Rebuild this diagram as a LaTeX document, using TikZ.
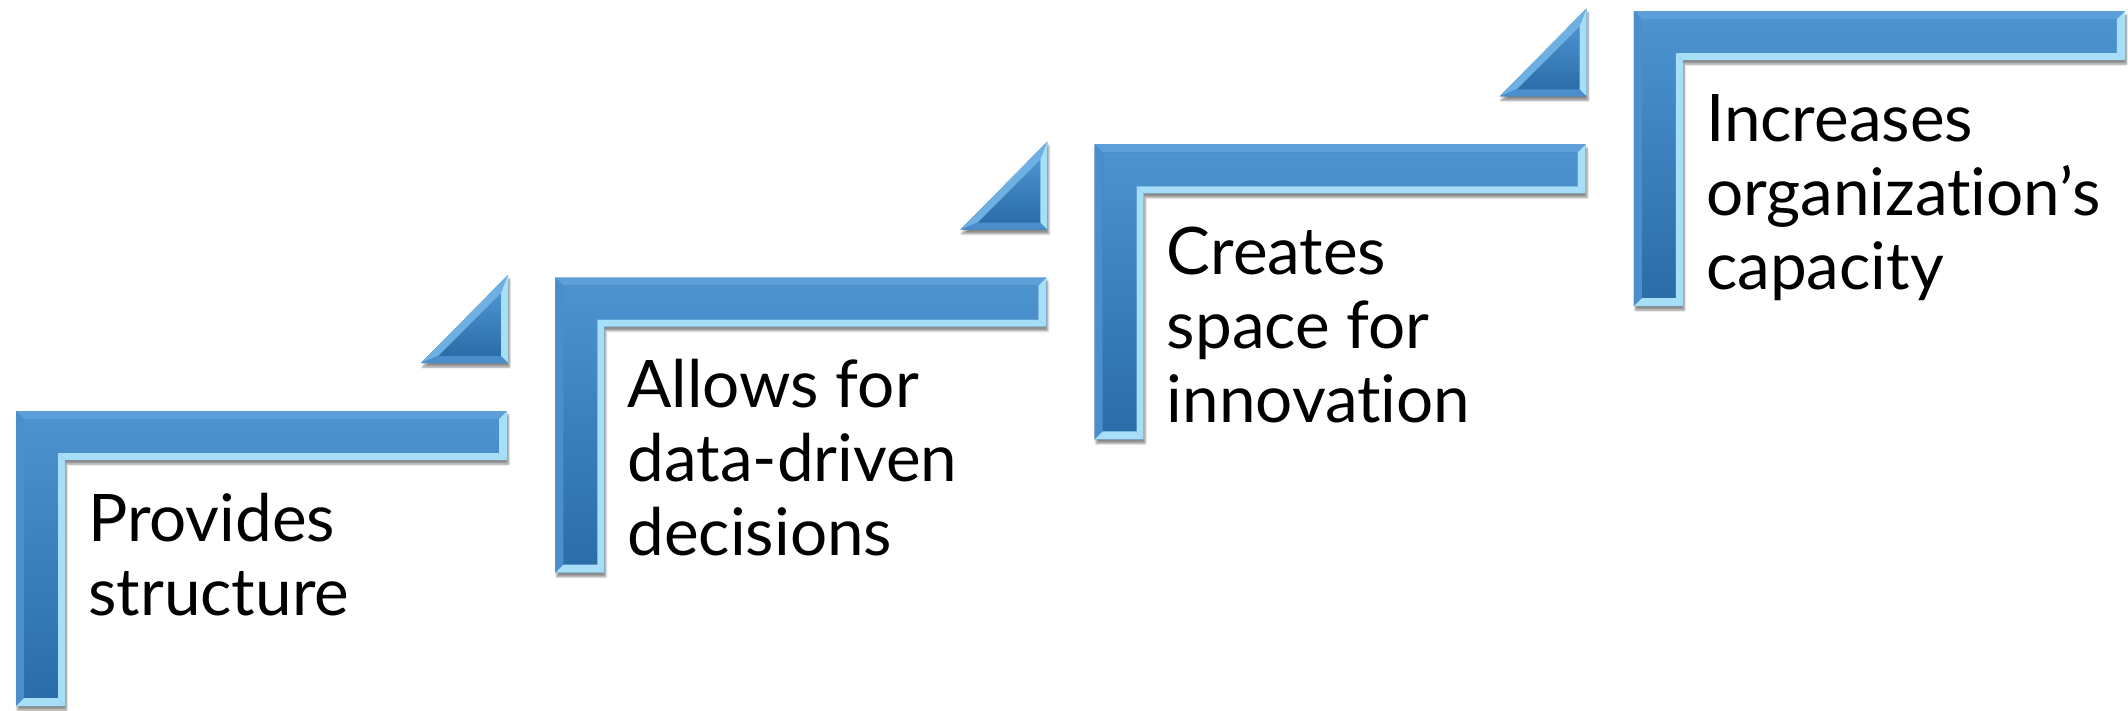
\documentclass[tikz,border=0pt]{standalone}
\usepackage{fontspec}
\setmainfont[Ligatures={NoCommon,NoContextual}]{Lato}
\usetikzlibrary{shadows.blur}
\definecolor{bluetop}{HTML}{4C93D0}
\definecolor{bluebot}{HTML}{2A6DA8}
\definecolor{facetop}{HTML}{5C9FD9}
\definecolor{faceleft}{HTML}{4A8ECC}
\definecolor{facelight}{HTML}{A8DFF8}
\definecolor{facemid}{HTML}{6FB0E2}
\tikzset{
  lbody/.style={fill=bluebot, blur shadow={shadow xshift=1.5pt, shadow yshift=-4pt, shadow blur steps=6, shadow opacity=45}},
  lface/.style={top color=bluetop, bottom color=bluebot},
  toplit/.style={fill=facetop},
  leftlit/.style={fill=faceleft},
  bright/.style={fill=facelight},
  midlit/.style={fill=facemid},
  labeltext/.style={font=\fontsize{65.6}{74}\selectfont, align=left, inner sep=0pt, anchor=base west, text=black}
}
\begin{document}
\begin{tikzpicture}[x=1pt,y=-1pt]
\useasboundingbox (0,0) rectangle (2128,710);
\foreach \i/\n/\txt in {0/2/{Provides\\structure},1/3/{Allows for\\data-driven\\decisions},2/3/{Creates\\space for\\innovation},3/3/{Increases\\organization’s\\capacity}}{
  \pgfmathsetmacro\X{16+539.3*\i}
  \pgfmathsetmacro\Y{411-133.3*\i}
  \pgfmathsetmacro\B{130+74*(\n-1)}
  \begin{scope}[shift={(\X,\Y)}]
    % L-shaped step
    \fill[lbody] (0,0) -- (491,0) -- (491,49) -- (49,49) -- (49,295) -- (0,295) -- cycle;
    \shade[lface] (8,8) -- (483,8) -- (483,42) -- (42,42) -- (42,287) -- (8,287) -- cycle;
    \fill[toplit] (0,0) -- (491,0) -- (483,8) -- (8,8) -- cycle;
    \fill[leftlit] (0,0) -- (8,8) -- (8,287) -- (0,295) -- cycle;
    \fill[bright] (491,0) -- (491,49) -- (483,42) -- (483,8) -- cycle;
    \fill[bright] (491,49) -- (49,49) -- (42,42) -- (483,42) -- cycle;
    \fill[bright] (49,49) -- (49,295) -- (42,287) -- (42,42) -- cycle;
    \fill[bright] (0,295) -- (49,295) -- (42,287) -- (8,287) -- cycle;
    \node[labeltext] (txt\i) at (72,\B) {\txt};
    % small triangle above the step
    \ifnum\i<3
      \fill[lbody] (405,-48) -- (492,-136) -- (492,-48) -- cycle;
      \shade[lface] (422,-55) -- (485,-118) -- (485,-55) -- cycle;
      \fill[midlit] (405,-48) -- (492,-136) -- (485,-118) -- (422,-55) -- cycle;
      \fill[bright] (492,-136) -- (492,-48) -- (485,-55) -- (485,-118) -- cycle;
      \fill[leftlit] (405,-48) -- (492,-48) -- (485,-55) -- (422,-55) -- cycle;
    \fi
  \end{scope}
}
\end{tikzpicture}
\end{document}
